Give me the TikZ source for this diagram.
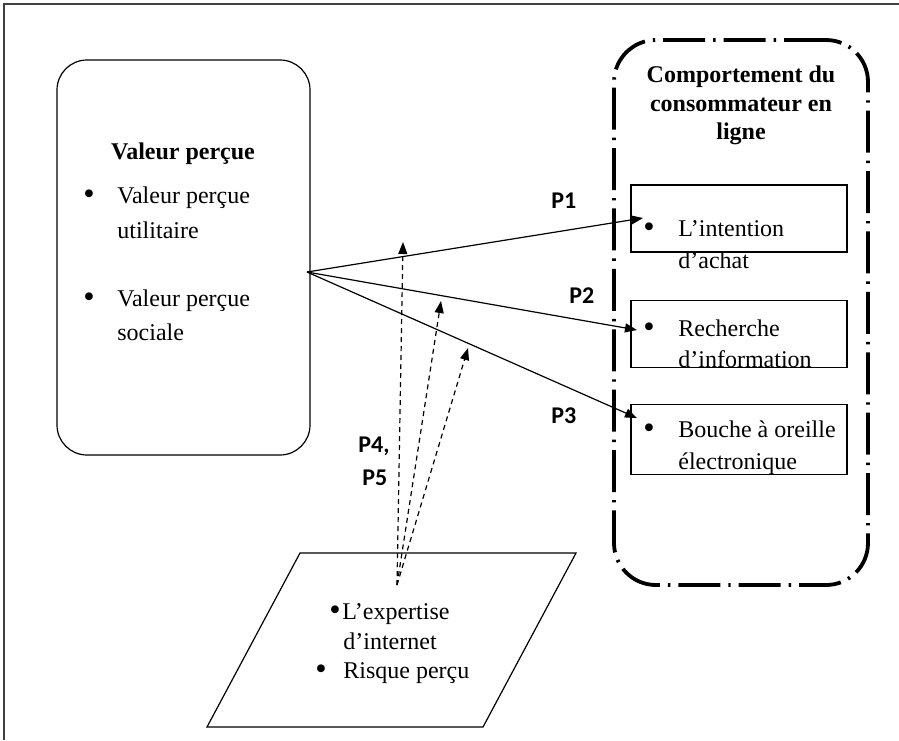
\documentclass[tikz,border=0pt]{standalone}
\usepackage{fontspec}
\setmainfont{Liberation Serif}
\newfontfamily\pfont{Carlito}
\usetikzlibrary{arrows.meta,positioning}
\newcommand{\bul}[1]{\makebox[#1][l]{\raisebox{-0.6pt}{\scalebox{1.35}{\textbullet}}}}

\begin{document}
\begin{tikzpicture}[x=0.5pt,y=-0.5pt,
    txt/.style={anchor=base west,inner sep=0pt,font=\fontsize{12}{14}\selectfont},
    ttl/.style={anchor=base,inner sep=0pt,font=\fontsize{12}{14}\selectfont\bfseries},
    plab/.style={anchor=base west,inner sep=0pt,font=\fontsize{12}{14}\selectfont\pfont\bfseries},
    vbox/.style={draw,semithick,rounded corners=15pt,minimum width=126.5pt,minimum height=197.5pt},
    cbox/.style={draw,line width=1.9pt,rounded corners=21pt,minimum width=127pt,minimum height=272.5pt,
      dash pattern=on 21pt off 4pt on 1.2pt off 4pt},
    ibox/.style={draw,semithick,minimum width=108pt,minimum height=33.5pt},
    arr/.style={-{Triangle[length=6pt,width=4.5pt]},semithick},
    darr/.style={arr,dash pattern=on 2.5pt off 2pt}]
  \useasboundingbox (0,0) rectangle (899,740);
  % frame
  \draw[line width=1pt,black!75] (4,740) -- (4,4) -- (899,4);
  % left box
  \node[vbox] (vp) at (183.5,257.5) {};
  \node[ttl] (vpt) at (183,159) {Valeur perçue};
  \node[txt] (vp1) at (83,203) {\bul{17pt}Valeur perçue};
  \node[txt] (vp1b) at (117,238) {utilitaire};
  \node[txt] (vp2) at (83,306) {\bul{17pt}Valeur perçue};
  \node[txt] (vp2b) at (117,340) {sociale};
  % right box
  \node[cbox] (cc) at (741,312.5) {};
  \node[ttl] (cct1) at (741,82) {Comportement du};
  \node[ttl] (cct2) at (741,111) {consommateur en};
  \node[ttl] (cct3) at (741,139) {ligne};
  \node[ibox] (ia) at (739,218.5) {};
  \node[ibox,below=23.5pt of ia] (ri) {};
  \node[ibox,below=18pt of ri,minimum height=35pt] (bo) {};
  \node[txt] (ia1) at (643,236) {\bul{17.5pt}L’intention};
  \node[txt] (ia2) at (678,268) {d’achat};
  \node[txt] (ri1) at (643,336) {\bul{17.5pt}Recherche};
  \node[txt] (ri2) at (678,367) {d’information};
  \node[txt] (bo1) at (643,437) {\bul{17.5pt}Bouche à oreille};
  \node[txt] (bo2) at (678,469) {électronique};
  % moderators
  \draw[semithick] (300,553) -- (576,553) -- (483,727) -- (207,727) -- cycle;
  \node[txt] (ex1) at (329,619) {\bul{6.5pt}L’expertise};
  \node[txt] (ex2) at (343,649) {d’internet};
  \node[txt] (rp) at (315,678) {\bul{14pt}Risque perçu};
  % links
  \coordinate (src) at (307,272);
  \coordinate (t1) at (643,218);
  \coordinate (t2) at (637,330);
  \coordinate (t3) at (637,418);
  \draw[arr] (src) -- (t1);
  \draw[arr] (src) -- (t2);
  \draw[arr] (src) -- (t3);
  \coordinate (msrc) at (397,585);
  \coordinate (m1) at (403,242);
  \coordinate (m2) at (441,301);
  \coordinate (m3) at (468,348);
  \draw[darr] (msrc) -- (m1);
  \draw[darr] (msrc) -- (m2);
  \draw[darr] (msrc) -- (m3);
  \node[plab] (p1) at (551,208) {P1};
  \node[plab] (p2) at (569,303) {P2};
  \node[plab] (p3) at (551,423) {P3};
  \node[plab] (p4) at (358,452) {P4,};
  \node[plab] (p5) at (362,485) {P5};
\end{tikzpicture}
\end{document}
